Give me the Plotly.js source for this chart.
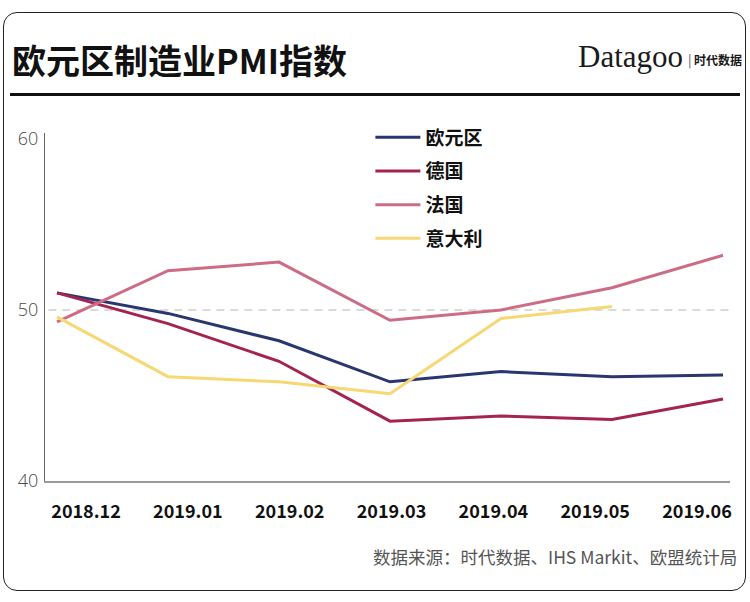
<!DOCTYPE html>
<html><head><meta charset="utf-8">
<script src="https://cdn.plot.ly/plotly-3.0.1.min.js"></script>
<style>
html,body{margin:0;padding:0;background:#fff;}
#wrap{position:relative;width:750px;height:602px;overflow:hidden;}
#frame{position:absolute;left:3px;top:12px;width:741px;height:577px;border:1.5px solid #222;border-radius:14px;}
#rule{position:absolute;left:10px;top:93px;width:730px;height:3px;background:#111;}
#chart{position:absolute;left:0;top:0;width:750px;height:602px;}
</style></head><body>
<div id="wrap"><div id="frame"></div><div id="rule"></div><div id="chart"></div></div>
<script>
const months = ['2018.12','2019.01','2019.02','2019.03','2019.04','2019.05','2019.06'];
const eurozone = [51.0, 49.8, 48.2, 45.8, 46.4, 46.1, 46.2];
const germany  = [51.0, 49.2, 47.0, 43.5, 43.8, 43.6, 44.8];
const france   = [49.3, 52.3, 52.8, 49.4, 50.0, 51.3, 53.2];
const italy    = [49.6, 46.1, 45.8, 45.1, 49.5, 50.2, null];
const seriesNames = ['欧元区', '德国', '法国', '意大利'];
const seriesColors = ['#2a3670', '#a42350', '#cd6c86', '#f6d874'];
const yTicks = [40, 50, 60];
const threshold = 50;
const titleText = '欧元区制造业PMI指数';
const sourceText = '数据来源：时代数据、IHS Markit、欧盟统计局';

const CJK = '"Noto Sans CJK SC", "Noto Sans", sans-serif';
const seriesData = [eurozone, germany, france, italy];
const traces = seriesData.map((vals, i) => ({
  type: 'scatter', mode: 'lines', x: months, y: vals,
  name: seriesNames[i], legendgroup: 'g' + i,
  line: {color: seriesColors[i], width: 3},
  xaxis: 'x', yaxis: 'y', hoverinfo: 'skip'
}));
// invisible trace carrying the tick-label axis
traces.push({type: 'scatter', mode: 'lines', x: months, y: months.map(() => null),
  xaxis: 'x2', yaxis: 'y', showlegend: false, hoverinfo: 'skip', line: {width: 0}});

const layout = {
  width: 750, height: 602,
  margin: {l: 45, r: 20, t: 133, b: 121, pad: 0},
  paper_bgcolor: 'rgba(0,0,0,0)', plot_bgcolor: 'rgba(0,0,0,0)',
  font: {family: CJK, color: '#111'},
  title: {text: titleText, xref: 'container', yref: 'container', x: 12/750, xanchor: 'left',
          y: 1 - 62/602, yanchor: 'middle', font: {family: CJK, size: 34, weight: 700, color: '#111'}},
  showlegend: true,
  legend: {x: 0.475, xanchor: 'left', y: 1.042, yanchor: 'top', bgcolor: 'rgba(0,0,0,0)', itemwidth: 45,
           font: {family: CJK, size: 19, weight: 700, color: '#111'}, tracegroupgap: 6, traceorder: 'grouped'},
  xaxis: {type: 'category', categoryorder: 'array', categoryarray: months, range: [-0.108, 6.063],
          showticklabels: false, ticks: '', showgrid: false, zeroline: false,
          showline: true, linecolor: '#9a9a9a', linewidth: 1.5, fixedrange: true},
  xaxis2: {type: 'category', categoryorder: 'array', categoryarray: months, overlaying: 'x', anchor: 'y', side: 'bottom',
           range: [-0.403, 6.324], ticks: '', showgrid: false, zeroline: false, showline: false,
           ticklabelstandoff: 18, tickfont: {family: CJK, size: 18, weight: 700, color: '#111'}, fixedrange: true},
  yaxis: {range: [40, 60.35], tickvals: yTicks, ticks: '', showgrid: false, zeroline: false,
          showline: true, linecolor: '#666', linewidth: 1.2, ticklabelstandoff: 2,
          tickfont: {family: '"Open Sans", "Noto Sans", sans-serif', size: 18, weight: 300, color: '#4a4a4a'}, fixedrange: true},
  shapes: [{type: 'line', xref: 'paper', x0: 0.005, x1: 1, yref: 'y', y0: threshold, y1: threshold,
            line: {color: '#b5b5b5', width: 1.2, dash: '8px,6px'}, layer: 'below'}],
  annotations: [
    {text: 'Datagoo', xref: 'paper', yref: 'paper', x: (576-45)/685, xanchor: 'left', y: (481-57)/348, yanchor: 'middle',
     showarrow: false, font: {family: '"Liberation Serif", "DejaVu Serif", serif', size: 31, color: '#1a1a1a'}},
    {text: '|', xref: 'paper', yref: 'paper', x: (686-45)/685, xanchor: 'left', y: (481-59)/348, yanchor: 'middle',
     showarrow: false, font: {family: CJK, size: 13, color: '#555'}},
    {text: '时代数据', xref: 'paper', yref: 'paper', x: (692-45)/685, xanchor: 'left', y: (481-59)/348, yanchor: 'middle',
     showarrow: false, font: {family: CJK, size: 12, weight: 700, color: '#1a1a1a'}},
    {text: sourceText, xref: 'paper', yref: 'paper', x: (739-45)/685, xanchor: 'right', y: (481-556)/348, yanchor: 'middle',
     showarrow: false, font: {family: CJK, size: 17.5, color: '#555'}}
  ]
};
Plotly.newPlot('chart', traces, layout, {staticPlot: true, displayModeBar: false});
</script>
</body></html>
